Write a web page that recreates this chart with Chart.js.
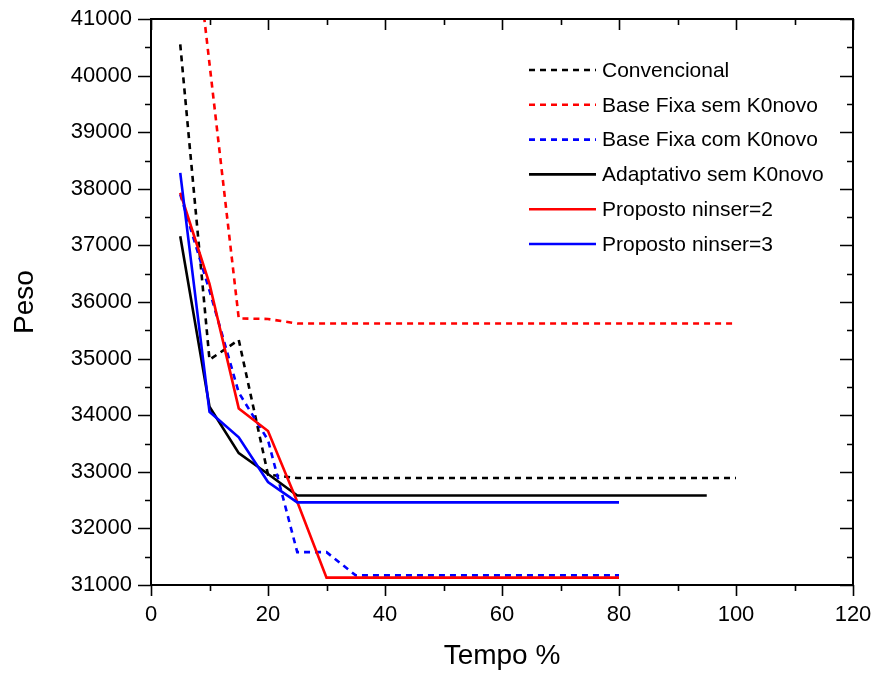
<!DOCTYPE html>
<html>
<head>
<meta charset="utf-8">
<script src="https://cdn.jsdelivr.net/npm/chart.js@4/dist/chart.umd.min.js"></script>
<style>
  html, body { margin: 0; padding: 0; background: #fff; }
  #wrap { width: 874px; height: 673px; }
</style>
</head>
<body>
<div id="wrap"><canvas id="grafico" width="874" height="673"></canvas></div>
<script>
// Dados
const nomes = ["Convencional", "Base Fixa sem K0novo", "Base Fixa com K0novo",
  "Adaptativo sem K0novo", "Proposto ninser=2", "Proposto ninser=3"];

const convX = [5, 10, 15, 20, 25, 100];
const convY = [40550, 34980, 35330, 32950, 32890, 32890];

const fixaSemX = [5, 10, 15, 20, 25, 100];
const fixaSemY = [44720, 40210, 35710, 35700, 35620, 35620];

const fixaComX = [5, 10, 15, 20, 25, 30, 35, 80];
const fixaComY = [37900, 36200, 34400, 33560, 31580, 31580, 31170, 31170];

const adaptX = [5, 10, 15, 20, 25, 95];
const adaptY = [37160, 34150, 33330, 32960, 32580, 32580];

const prop2X = [5, 10, 15, 20, 25, 30, 80];
const prop2Y = [37930, 36320, 34120, 33720, 32470, 31130, 31130];

const prop3X = [5, 10, 15, 20, 25, 80];
const prop3Y = [38280, 34060, 33610, 32820, 32460, 32460];

const xTicks = [0, 20, 40, 60, 80, 100, 120];
const yTicks = [31000, 32000, 33000, 34000, 35000, 36000, 37000, 38000, 39000, 40000, 41000];

const FONTE = '"Liberation Sans", Arial, sans-serif';

function pontos(xs, ys) {
  return xs.map((x, i) => ({ x: x, y: ys[i] }));
}

function serie(i, xs, ys, cor, tracejado) {
  return {
    label: nomes[i],
    data: pontos(xs, ys),
    borderColor: cor,
    backgroundColor: cor,
    borderWidth: 2.6,
    borderDash: tracejado ? [6, 5] : [],
    pointRadius: 0,
    tension: 0,
    fill: false,
    order: 10 - i
  };
}

// moldura com marcas de escala (maiores e menores)
const moldura = {
  id: "moldura",
  afterDatasetsDraw(chart) {
    const { ctx, chartArea: a, scales: { x, y } } = chart;
    ctx.save();
    ctx.strokeStyle = "#000";
    ctx.lineWidth = 2;
    ctx.strokeRect(a.left, a.top, a.right - a.left, a.bottom - a.top);
    ctx.lineWidth = 1.6;
    ctx.beginPath();
    for (let v = 0; v <= 120; v += 10) {
      const px = Math.round(x.getPixelForValue(v)) + 0.5;
      const len = v % 20 === 0 ? 11 : 6;
      ctx.moveTo(px, a.bottom); ctx.lineTo(px, a.bottom + len);
      ctx.moveTo(px, a.top); ctx.lineTo(px, a.top + len);
    }
    for (let v = 31000; v <= 41000; v += 500) {
      const py = Math.round(y.getPixelForValue(v)) + 0.5;
      const len = v % 1000 === 0 ? 13 : 6;
      ctx.moveTo(a.left, py); ctx.lineTo(a.left - len, py);
      ctx.moveTo(a.right, py); ctx.lineTo(a.right - len, py);
    }
    ctx.stroke();
    ctx.restore();
  }
};

// legenda dentro da area do grafico
const legenda = {
  id: "legenda",
  afterDraw(chart) {
    const ctx = chart.ctx;
    ctx.save();
    ctx.font = "21px " + FONTE;
    ctx.textBaseline = "middle";
    ctx.fillStyle = "#000";
    chart.data.datasets.forEach((ds, i) => {
      const yy = 70 + i * 34.8;
      ctx.strokeStyle = ds.borderColor;
      ctx.lineWidth = ds.borderWidth;
      ctx.setLineDash(ds.borderDash);
      ctx.beginPath();
      ctx.moveTo(529, yy);
      ctx.lineTo(596, yy);
      ctx.stroke();
      ctx.setLineDash([]);
      ctx.fillText(ds.label, 602, yy + 1);
    });
    ctx.restore();
  }
};

new Chart(document.getElementById("grafico"), {
  type: "line",
  data: {
    datasets: [
      serie(0, convX, convY, "#000000", true),
      serie(1, fixaSemX, fixaSemY, "#ff0000", true),
      serie(2, fixaComX, fixaComY, "#0000ff", true),
      serie(3, adaptX, adaptY, "#000000", false),
      serie(4, prop2X, prop2Y, "#ff0000", false),
      serie(5, prop3X, prop3Y, "#0000ff", false)
    ]
  },
  options: {
    responsive: false,
    animation: false,
    devicePixelRatio: 1,
    layout: { padding: { top: 19, right: 21, left: 0, bottom: 0 } },
    plugins: {
      legend: { display: false },
      tooltip: { enabled: false }
    },
    scales: {
      x: {
        type: "linear",
        min: 0,
        max: 120,
        afterBuildTicks: s => { s.ticks = xTicks.map(v => ({ value: v })); },
        afterFit: s => { s.height = 88; s.paddingLeft = 0; s.paddingRight = 0; },
        grid: { display: false, drawTicks: false },
        border: { display: false },
        ticks: { color: "#000", padding: 17, font: { family: FONTE, size: 22 },
          callback: v => String(v) },
        title: { display: true, text: "Tempo %", color: "#000",
          padding: { top: 0, bottom: 0 }, font: { family: FONTE, size: 28 } }
      },
      y: {
        type: "linear",
        min: 31000,
        max: 41000,
        afterBuildTicks: s => { s.ticks = yTicks.map(v => ({ value: v })); },
        afterFit: s => { s.width = 151; s.paddingTop = 0; s.paddingBottom = 0; },
        grid: { display: false, drawTicks: false },
        border: { display: false },
        ticks: { color: "#000", padding: 19, font: { family: FONTE, size: 22 },
          callback: v => String(v) },
        title: { display: true, text: "Peso", color: "#000",
          padding: { top: 8, bottom: 0 }, font: { family: FONTE, size: 28 } }
      }
    }
  },
  plugins: [moldura, legenda]
});
</script>
</body>
</html>
